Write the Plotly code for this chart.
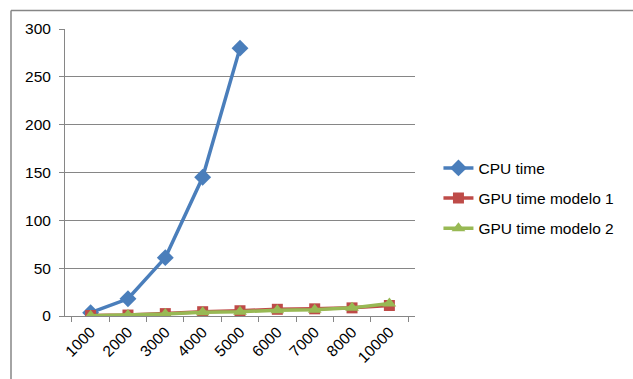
import plotly.graph_objects as go

categories = ["1000", "2000", "3000", "4000", "5000", "6000", "7000", "8000", "10000"]
cpu_time = [3.5, 18, 61, 145, 280, None, None, None, None]
gpu_modelo1 = [0.5, 1, 2.5, 4.5, 5.5, 7, 7.5, 8.5, 11]
gpu_modelo2 = [0.3, 1, 2, 4, 4.5, 6, 6.5, 8.5, 13]
y_ticks = [0, 50, 100, 150, 200, 250, 300]

FONT = "Liberation Sans"
fig = go.Figure()
fig.add_trace(go.Scatter(x=categories, y=cpu_time, name="CPU time", mode="lines+markers",
                         line=dict(color="#4A7EBB", width=3.5),
                         marker=dict(symbol="diamond", size=13, color="#4A7EBB"),
                         legendgroup="a"))
fig.add_trace(go.Scatter(x=categories, y=gpu_modelo1, name="GPU time modelo 1", mode="lines+markers",
                         line=dict(color="#BE4B48", width=3.5),
                         marker=dict(symbol="square", size=11, color="#BE4B48"),
                         legendgroup="b"))
fig.add_trace(go.Scatter(x=categories, y=gpu_modelo2, name="GPU time modelo 2", mode="lines+markers",
                         line=dict(color="#98B954", width=3.5),
                         marker=dict(symbol="triangle-up", size=12, color="#98B954"),
                         legendgroup="c"))

fig.update_layout(
    width=633, height=379,
    margin=dict(l=65, r=218, t=29, b=63),
    paper_bgcolor="white", plot_bgcolor="white",
    font=dict(family=FONT, size=15, color="#000000"),
    showlegend=True,
    legend=dict(x=1.067, y=0.41, xanchor="left", yanchor="middle",
                font=dict(family=FONT, size=15.5, color="#000000"),
                tracegroupgap=7, bgcolor="rgba(0,0,0,0)"),
    xaxis=dict(type="category", tickangle=-45, showgrid=False,
               showline=True, linecolor="#868686", linewidth=1,
               ticks="outside", ticklen=5, tickcolor="#868686", tickson="boundaries",
               tickfont=dict(family=FONT, size=15.5, color="#000000")),
    yaxis=dict(range=[0, 300], tickvals=y_ticks, showgrid=True, gridcolor="#868686", gridwidth=1,
               showline=True, linecolor="#868686", linewidth=1,
               ticks="outside", ticklen=5, tickcolor="#868686",
               zeroline=False, ticklabelstandoff=5,
               tickfont=dict(family=FONT, size=15.5, color="#000000")),
    shapes=[
        dict(type="line", xref="paper", yref="paper", x0=-54/350, x1=568/350, y0=1+18.5/287, y1=1+18.5/287,
             line=dict(color="#868686", width=1.5)),
        dict(type="line", xref="paper", yref="paper", x0=-54/350, x1=-54/350, y0=1+18.5/287, y1=-63/287,
             line=dict(color="#868686", width=1.5)),
    ],
)
fig.write_html("out.html")
